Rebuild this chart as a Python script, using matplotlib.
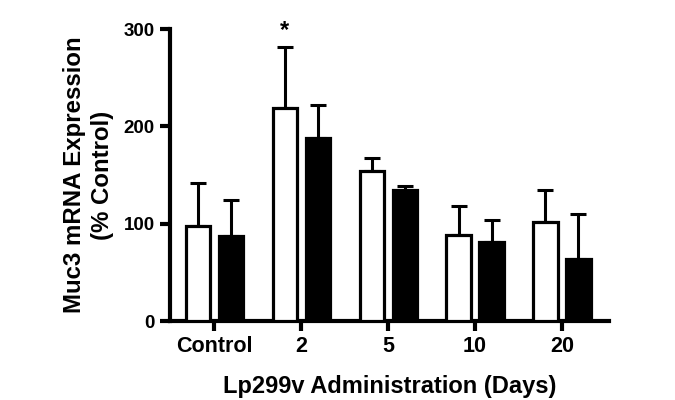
import matplotlib
matplotlib.use("Agg")
import matplotlib.pyplot as plt
import numpy as np

plt.rcParams['font.family'] = ['Liberation Sans', 'DejaVu Sans']
plt.rcParams['font.weight'] = 'bold'

categories = ["Control", "2", "5", "10", "20"]
white_vals = [97.5, 218.7, 154.5, 88.3, 101.5]
white_err = [44, 62.5, 13.5, 29.7, 32.7]
black_vals = [87, 188.5, 134.3, 81.4, 63.3]
black_err = [37, 33.5, 4.4, 22, 46.7]
yticks = [0, 100, 200, 300]

fig = plt.figure(figsize=(6.75, 4.0), dpi=100)
ax = fig.add_axes([0.252, 0.1975, 0.650, 0.7295])

x = np.arange(len(categories))
w = 0.28
off = 0.19
lw = 2.3
ax.bar(x - off, white_vals, w, color='white', edgecolor='black', linewidth=lw, zorder=3)
ax.bar(x + off, black_vals, w, color='black', edgecolor='black', linewidth=lw, zorder=3)
ax.errorbar(x - off, white_vals, yerr=[np.zeros(len(x)), white_err], fmt='none',
            ecolor='black', elinewidth=2.2, capsize=6, capthick=2.2, zorder=2)
ax.errorbar(x + off, black_vals, yerr=[np.zeros(len(x)), black_err], fmt='none',
            ecolor='black', elinewidth=2.2, capsize=6, capthick=2.2, zorder=2)

ax.annotate('*', xy=(x[1] - off, white_vals[1] + white_err[1]), xytext=(0, 4),
            textcoords='offset points', ha='center', va='bottom', fontsize=17, fontweight='bold')

ax.set_xlim(-0.51, 4.54)
ax.set_ylim(0, 300)
ax.set_xticks(x)
ax.set_xticklabels(categories)
ax.set_yticks(yticks)
for s in ['top', 'right']:
    ax.spines[s].set_visible(False)
for s in ['left', 'bottom']:
    ax.spines[s].set_linewidth(3)
ax.tick_params(axis='both', width=3, length=7, pad=4)
ax.tick_params(axis='x', labelsize=15.5)
ax.tick_params(axis='y', labelsize=13.5)
for lab in ax.get_xticklabels() + ax.get_yticklabels():
    lab.set_fontweight('bold')
ax.set_xlabel('Lp299v Administration (Days)', fontsize=17, fontweight='bold', labelpad=13)
ax.set_ylabel('Muc3 mRNA Expression\n(% Control)', fontsize=17.3, fontweight='bold', labelpad=7,
              linespacing=1.3)

fig.savefig('out.png', dpi=100)
